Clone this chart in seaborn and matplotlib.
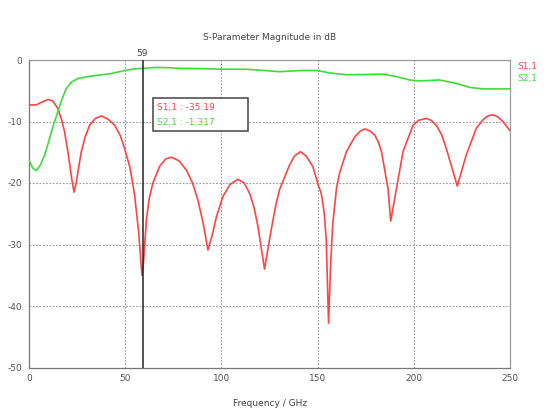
import numpy as np
import pandas as pd
import seaborn as sns
import matplotlib
matplotlib.use("Agg")
import matplotlib.pyplot as plt
from matplotlib.patches import Rectangle

# ---- data ----
s11_freq = [0, 3.8, 7, 9.9, 12.5, 15, 17, 18.5, 20.5, 22.3, 23.4, 24.5, 25.8, 27.2,
            29.2, 31.5, 34.5, 37.6, 41, 44.5, 47.5, 49.7, 52.5, 54.9, 57, 58.7,
            59.5, 61, 62.5, 64.4, 67.9, 71, 74, 78, 81.8, 85, 87.8, 90.5, 93,
            95.2, 97.4, 100.8, 104.5, 108.6, 111.8, 114.7, 117, 119, 122.4, 125.9,
            128, 130.2, 135.4, 138, 141.1, 144, 147.5, 150.3, 151.9, 153.5, 154.5,
            155.7, 156.8, 157.9, 159.8, 161.4, 165, 169.3, 172, 174.5, 177, 179.7,
            181.5, 183.2, 186.6, 188, 191, 194.4, 199.6, 202.5, 206.5, 209, 211.7,
            214.5, 216.9, 222.6, 227.3, 232.5, 236, 238.5, 240.8, 243.5, 246.3, 250]
s11_db = [-7.3, -7.3, -6.8, -6.4, -6.7, -7.9, -9.8, -11.7, -15.5, -19.5, -21.5, -20,
          -17.5, -14.9, -12.5, -10.6, -9.5, -9.1, -9.6, -10.6, -12.3, -14.4, -17.5,
          -22, -28, -35.0, -33, -26, -22.5, -20, -17.3, -16.1, -15.8, -16.4, -17.9,
          -20, -22.8, -26.5, -30.9, -28.5, -25.5, -22.2, -20.2, -19.4, -20, -21.7,
          -24, -27.1, -34.0, -27.6, -24, -21.1, -17.1, -15.6, -14.9, -15.6, -17.3,
          -20.3, -21.7, -25, -29.3, -42.8, -33, -26.6, -20.9, -18.4, -14.9, -12.5,
          -11.6, -11.2, -11.5, -12.2, -13.3, -14.9, -20.9, -26.2, -20.9, -14.9,
          -10.6, -9.8, -9.5, -9.8, -10.6, -12.2, -14.4, -20.5, -15.4, -11.1, -9.7,
          -9.1, -8.9, -9.2, -10.0, -11.5]

s21_freq = [0, 2, 3.8, 6, 8.2, 10, 11.6, 13.3, 15, 17, 19.4, 22, 25.5, 32.4, 38,
            42.8, 47, 51.4, 55, 59.2, 66.2, 72, 78.3, 90, 100, 113, 122, 130.2,
            136, 142.5, 149.4, 156.3, 165, 175.4, 184, 191, 197.8, 203, 213.4,
            222, 229, 236, 250]
s21_db = [-16.3, -17.6, -18.0, -17, -15.4, -13.5, -11.7, -10, -8.4, -6.5, -4.6, -3.6,
          -3.0, -2.6, -2.4, -2.2, -1.9, -1.6, -1.45, -1.35, -1.2, -1.25, -1.35, -1.4,
          -1.5, -1.5, -1.7, -1.9, -1.8, -1.7, -1.7, -2.1, -2.4, -2.35, -2.3, -2.7,
          -3.25, -3.4, -3.25, -3.8, -4.45, -4.7, -4.7]

x_ticks = [0, 50, 100, 150, 200, 250]
y_ticks = [0, -10, -20, -30, -40, -50]
series_names = ["S1,1", "S2,1"]
marker_freq = 59
marker_vals = ["-35.19", "-1.317"]

RED = "#ff4444"
GREEN = "#3ddc3d"

sns.set_style("white")
plt.rcParams['font.family'] = ['DejaVu Sans']

fig = plt.figure(figsize=(5.45, 4.12), dpi=100)
ax = fig.add_axes([29/545, 1 - 367.5/412, (510-29)/545, (367.5-60)/412])

df11 = pd.DataFrame({"f": s11_freq, "db": s11_db})
df21 = pd.DataFrame({"f": s21_freq, "db": s21_db})
sns.lineplot(data=df11, x="f", y="db", ax=ax, color=RED, lw=1.2, sort=False, zorder=3)
sns.lineplot(data=df21, x="f", y="db", ax=ax, color=GREEN, lw=1.2, sort=False, zorder=3)

ax.set_xlim(0, 250)
ax.set_ylim(-50, 0)
ax.set_xticks(x_ticks)
ax.set_yticks(y_ticks)
ax.set_xticklabels([str(t) for t in x_ticks])
ax.set_yticklabels([str(t) for t in y_ticks])
ax.tick_params(axis='both', labelsize=6.5, labelcolor="#555555", length=2,
               color="#888888", pad=3)
ax.set_xlabel("")
ax.set_ylabel("")

for xv in x_ticks[1:-1]:
    ax.axvline(xv, color="#999999", lw=0.8, ls=(0, (1.5, 1.5)), zorder=1)
for yv in y_ticks[1:-1]:
    ax.axhline(yv, color="#999999", lw=0.8, ls=(0, (1.5, 1.5)), zorder=1)

for s in ax.spines.values():
    s.set_color("#999999")
    s.set_linewidth(0.9)
ax.spines['left'].set_color("#777777")
ax.spines['bottom'].set_color("#777777")

# marker line
ax.axvline(marker_freq, color="#222222", lw=1.1, zorder=4)
ax.text(marker_freq, 0.4, str(marker_freq), ha="center", va="bottom",
        fontsize=6.5, color="#444444")

# marker value box
ax.add_patch(Rectangle((64.4, -11.5), 49.4, 5.3, fill=True, facecolor="white",
                       edgecolor="#444444", lw=1.1, zorder=5))
ax.text(66.5, -7.8, f"{series_names[0]} : {marker_vals[0]}", color=RED,
        fontsize=6.5, va="center", ha="left", zorder=6)
ax.text(66.5, -10.1, f"{series_names[1]} : {marker_vals[1]}", color=GREEN,
        fontsize=6.5, va="center", ha="left", zorder=6)

# legend labels to the right
fig.text(517/545, 1 - 66/412, series_names[0], color=RED, fontsize=6.5,
         va="center", ha="left")
fig.text(517/545, 1 - 78/412, series_names[1], color=GREEN, fontsize=6.5,
         va="center", ha="left")

fig.text(270/545, 1 - 38/412, "S-Parameter Magnitude in dB", ha="center",
         va="center", fontsize=6.5, color="#444444")
fig.text(270/545, 1 - 404/412, "Frequency / GHz", ha="center", va="center",
         fontsize=6.5, color="#444444")

fig.savefig("out.png", dpi=100, facecolor="white")
